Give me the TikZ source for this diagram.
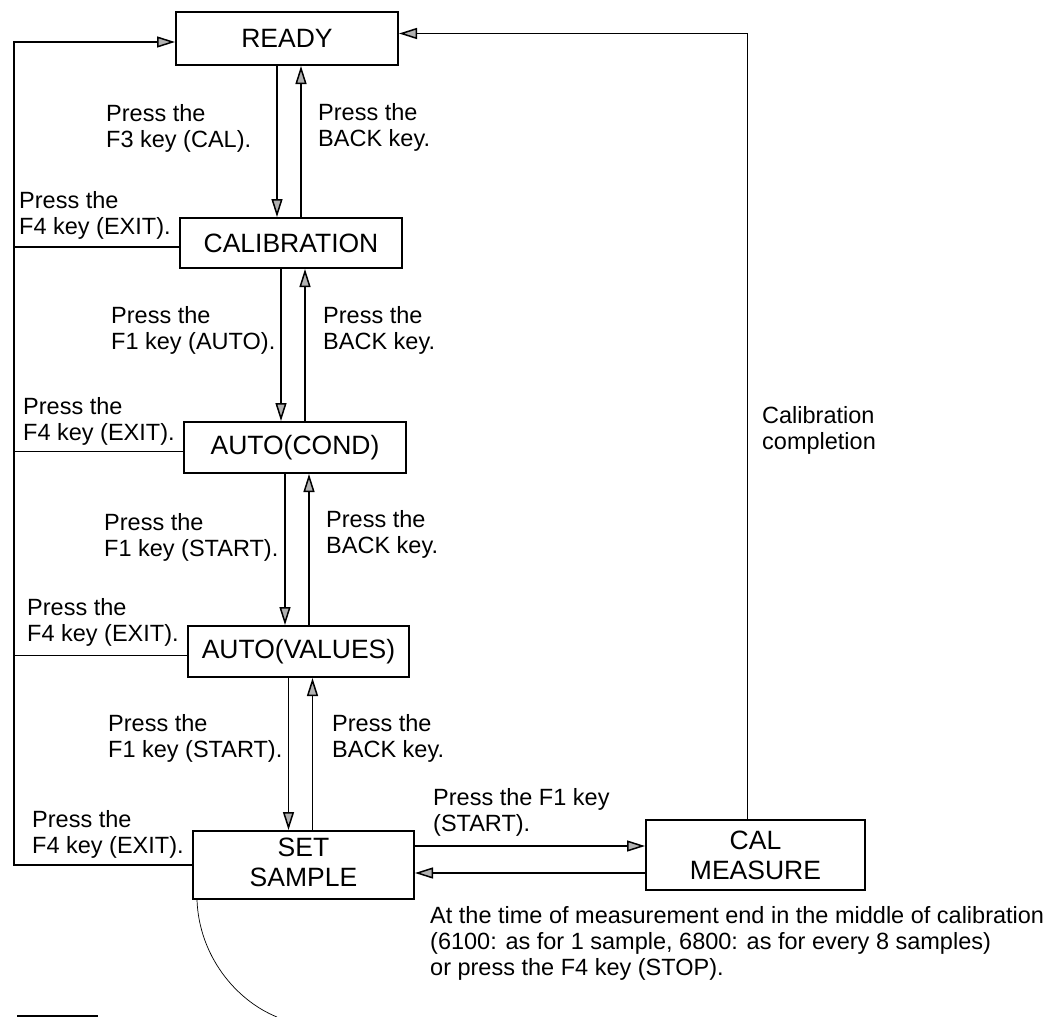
\documentclass[tikz,border=0pt]{standalone}
\usepackage{fontspec}
\setmainfont{Liberation Sans}
\usepackage{tikz}
\usetikzlibrary{
    calc,
    arrows.meta
}
\newcommand{\boxfont}{\fontsize{26.5}{30}\selectfont}
\newcommand{\labfont}{\fontsize{23.5}{26}\selectfont}

\begin{document}
\begin{tikzpicture}[x=1pt,y=-1pt,
    state/.style={draw, line width=2pt, minimum width=222pt, inner sep=0pt, align=center, font=\boxfont},
    flow/.style={line width=1.5pt, -{Triangle[length=18pt,width=11pt,fill=gray!60]}},
    wire/.style={line width=1.5pt},
    note/.style={anchor=base west, align=left, inner sep=0pt, font=\labfont}]
\useasboundingbox (0,0) rectangle (1060,1017);

\node[state, minimum height=53pt] (ready) at (287,38.5) {READY};
\node[state, minimum height=50pt] (calib) at (291,243) {CALIBRATION};
\node[state, minimum height=51pt] (cond) at (295,447.5) {AUTO(COND)};
\node[state, minimum height=51pt, minimum width=221pt] (values) at (298.5,651.5) {AUTO(VALUES)};
\node[state, minimum height=68pt, minimum width=221pt] (setsample) at (303.5,865) {SET\\SAMPLE\rule[-6pt]{0pt}{0pt}};
\node[state, minimum height=70pt, minimum width=219pt] (calmeas) at (755.5,855) {CAL\\MEASURE};

\node[note] (lcal) at (106,147) {Press the\\F3 key (CAL).};
\node[note] (lback1) at (318,146) {Press the\\BACK key.};
\node[note] (lexit1) at (19,234) {Press the\\F4 key (EXIT).};
\node[note] (lauto) at (111,349) {Press the\\F1 key (AUTO).};
\node[note] (lback2) at (323,349) {Press the\\BACK key.};
\node[note] (lexit2) at (23,440) {Press the\\F4 key (EXIT).};
\node[note] (lstart1) at (104,556) {Press the\\F1 key (START).};
\node[note] (lback3) at (326,553) {Press the\\BACK key.};
\node[note] (lexit3) at (27,641) {Press the\\F4 key (EXIT).};
\node[note] (lstart2) at (108,757) {Press the\\F1 key (START).};
\node[note] (lback4) at (332,757) {Press the\\BACK key.};
\node[note] (lexit4) at (32,853) {Press the\\F4 key (EXIT).};
\node[note] (lstart3) at (433,831) {Press the F1 key\\(START).};
\node[note] (ldone) at (762,449) {Calibration\\completion};
\node[note] (lstop) at (430,975) {At the time of measurement end in the middle of calibration\\(6100: as for 1 sample, 6800: as for every 8 samples)\\or press the F4 key (STOP).};
%%
\draw[flow] ([xshift=-10pt]ready.south) -- ([xshift=-10pt]ready.south |- calib.north);
\draw[flow] ([xshift=14pt]ready.south |- calib.north) -- ([xshift=14pt]ready.south);
\draw[flow] ([xshift=-10pt]calib.south) -- ([xshift=-10pt]calib.south |- cond.north);
\draw[flow] ([xshift=14pt]calib.south |- cond.north) -- ([xshift=14pt]calib.south);
\draw[flow] ([xshift=-10pt]cond.south) -- ([xshift=-10pt]cond.south |- values.north);
\draw[flow] ([xshift=14pt]cond.south |- values.north) -- ([xshift=14pt]cond.south);
\draw[flow] ([xshift=-10pt]values.south) -- ([xshift=-10pt]values.south |- setsample.north);
\draw[flow] ([xshift=14pt]values.south |- setsample.north) -- ([xshift=14pt]values.south);
%%
\coordinate (rail) at (14,42);
\draw[wire] ([yshift=-4pt]calib.west) -- ([yshift=-4pt]calib.west -| rail);
\draw[wire] ([yshift=-4pt]cond.west) -- ([yshift=-4pt]cond.west -| rail);
\draw[wire] ([yshift=-4pt]values.west) -- ([yshift=-4pt]values.west -| rail);
\draw[flow] (setsample.west) -| (rail) -- (rail -| ready.west);
%
\draw[flow] ([xshift=-8pt]calmeas.north) |- ([yshift=5pt]ready.east);
%
\draw[flow] ([yshift=9pt]calmeas.west -| setsample.east) -- ([yshift=9pt]calmeas.west);
\draw[flow] ([yshift=-18pt]calmeas.west) -- ([yshift=-18pt]calmeas.west -| setsample.east);
%%
\coordinate (tailend) at (277,1017);
\draw[line width=0.7pt] ([xshift=5pt]setsample.south west) .. controls (199,955) and (235,1000) .. (tailend);

\coordinate (markL) at (17,1016);
\coordinate (markR) at (98,1016);
\draw[line width=3pt] (markL) -- (markR);
\end{tikzpicture}
\end{document}
